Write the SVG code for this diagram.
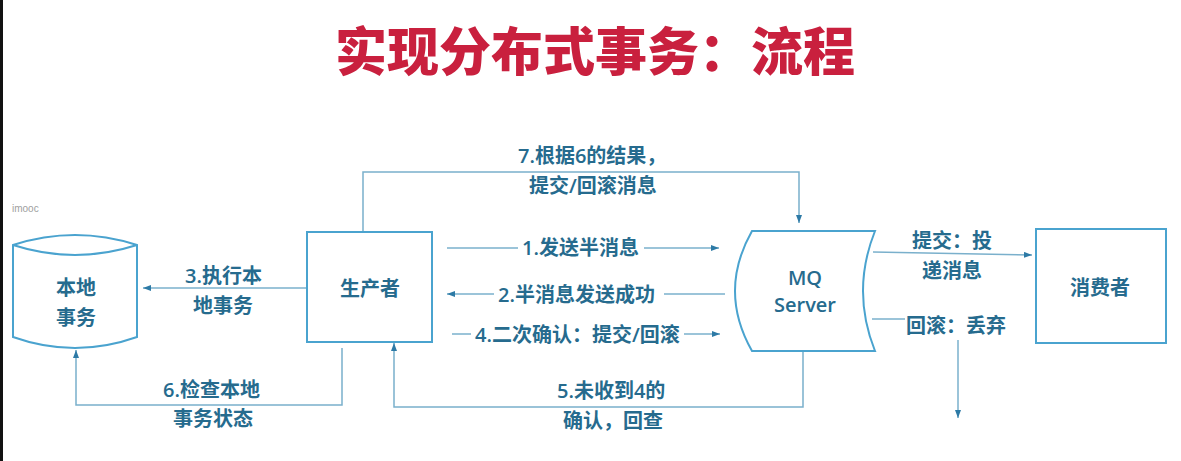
<svg xmlns="http://www.w3.org/2000/svg" width="1181" height="461" viewBox="0 0 1181 461">
<defs>
<style>
.title{font-family:"Noto Sans CJK SC","Noto Sans",sans-serif;font-weight:900;font-size:52px;fill:#c9203e}
.t{font-family:"Open Sans","Noto Sans CJK SC",sans-serif;font-weight:600;font-size:20px;fill:#266b8e;dominant-baseline:central}
.c{text-anchor:middle}
.node{fill:#ffffff;stroke:#4aa3cf;stroke-width:2}
.ln{fill:none;stroke:#7ab0cc;stroke-width:1.5}
.wm{font-family:"Liberation Sans",sans-serif;font-size:10px;fill:#a0a0a0}
</style>
<marker id="ah" viewBox="0 0 8 6" refX="8" refY="3" markerWidth="8" markerHeight="6" markerUnits="userSpaceOnUse" orient="auto">
<path d="M0,0 L8,3 L0,6 Z" fill="#2d7aa6"/>
</marker>
</defs>
<rect x="0" y="0" width="1181" height="461" fill="#ffffff"/>
<rect x="0" y="0" width="3" height="461" fill="#111111"/>
<text class="title" x="595" y="48" text-anchor="middle" dominant-baseline="central">实现分布式事务：流程</text>
<text class="wm" x="12" y="212">imooc</text>

<g id="connectors">
<path class="ln" d="M363,232 L363,172 L799,172 L799,223" marker-end="url(#ah)"/>
<line class="ln" x1="447" y1="248" x2="518" y2="248"/>
<line class="ln" x1="644" y1="248" x2="719" y2="248" marker-end="url(#ah)"/>
<line class="ln" x1="725" y1="294" x2="664" y2="294"/>
<line class="ln" x1="494" y1="294" x2="447" y2="294" marker-end="url(#ah)"/>
<line class="ln" x1="452" y1="334" x2="471" y2="334"/>
<line class="ln" x1="684" y1="334" x2="720" y2="334" marker-end="url(#ah)"/>
<line class="ln" x1="306" y1="288" x2="143" y2="288" marker-end="url(#ah)"/>
<path class="ln" d="M342,348 L342,405 L76,405 L76,350" marker-end="url(#ah)"/>
<path class="ln" d="M803,352 L803,407 L394,407 L394,343" marker-end="url(#ah)"/>
<line class="ln" x1="873" y1="252" x2="1032" y2="255" marker-end="url(#ah)"/>
<line class="ln" x1="872" y1="319" x2="905" y2="319"/>
<line class="ln" x1="958" y1="340" x2="958" y2="418" marker-end="url(#ah)"/>
</g>

<g id="labels">
<text class="t" x="518" y="155">7.根据6的结果，</text>
<text class="t" x="529" y="185">提交/回滚消息</text>
<text class="t" x="522" y="247">1.发送半消息</text>
<text class="t" x="498" y="294">2.半消息发送成功</text>
<text class="t" x="475" y="334">4.二次确认：提交/回滚</text>
<text class="t" x="557" y="390">5.未收到4的</text>
<text class="t" x="563" y="420">确认，回查</text>
<text class="t" x="185" y="275">3.执行本</text>
<text class="t" x="193" y="305">地事务</text>
<text class="t" x="163" y="389">6.检查本地</text>
<text class="t" x="173" y="418">事务状态</text>
<text class="t" x="912" y="240">提交：投</text>
<text class="t" x="922" y="270">递消息</text>
<text class="t" x="906" y="325">回滚：丢弃</text>
</g>

<g id="local-tx">
<path class="node" d="M13,245 Q75,225 137,245 L137,337 Q75,359 13,337 Z"/>
<path class="ln" style="stroke:#4aa3cf;stroke-width:2" d="M13,245 Q75,265 137,245"/>
<text class="t c" x="76" y="287">本地</text>
<text class="t c" x="76" y="317">事务</text>
</g>

<g id="producer">
<rect class="node" x="307" y="232" width="125" height="110"/>
<text class="t c" x="370" y="288">生产者</text>
</g>

<g id="mq-server">
<path class="node" d="M752,231 L875,231 Q851,291 875,351 L752,351 Q718,291 752,231 Z"/>
<text class="t c" x="805" y="277">MQ</text>
<text class="t c" x="805" y="304">Server</text>
</g>

<g id="consumer">
<rect class="node" x="1036" y="229" width="130" height="114"/>
<text class="t c" x="1100" y="287">消费者</text>
</g>
</svg>
